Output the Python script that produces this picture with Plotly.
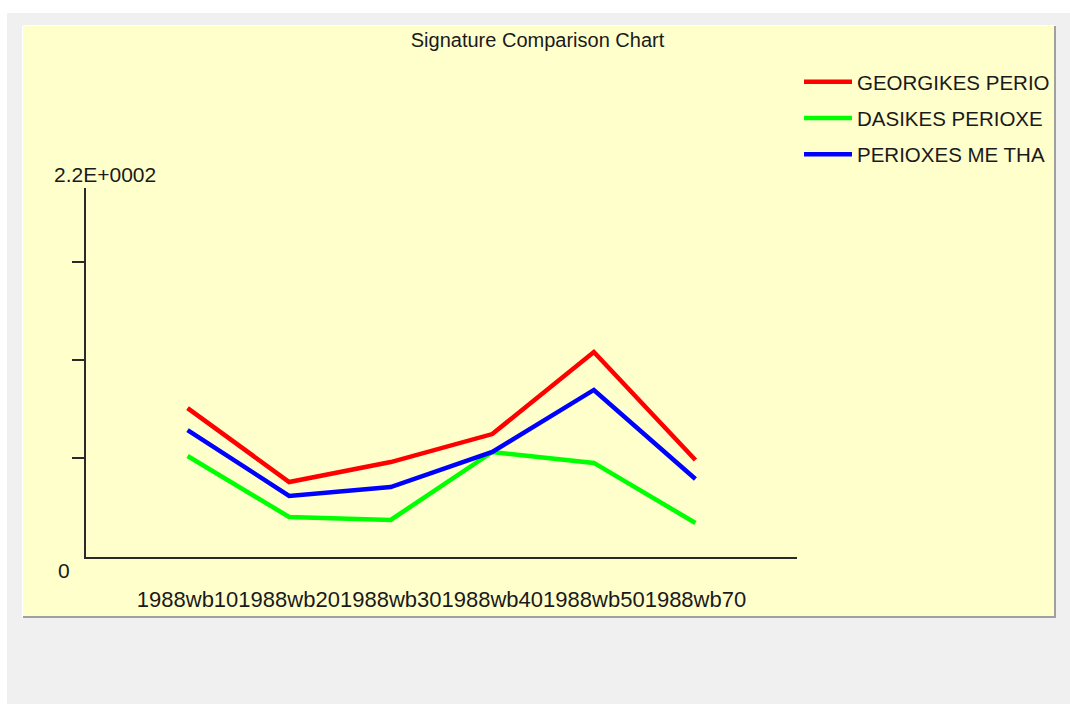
import plotly.graph_objects as go

W, H = 1070, 704

categories = ["1988wb10", "1988wb20", "1988wb30", "1988wb40", "1988wb50", "1988wb70"]
series_names = ["GEORGIKES PERIO", "DASIKES PERIOXE", "PERIOXES ME THA"]
georgikes = [88.8, 44.7, 56.6, 73.3, 122.2, 57.8]
dasikes = [60.2, 23.9, 22.1, 62.6, 56.1, 20.3]
thamnous = [75.7, 36.4, 41.7, 62.6, 99.6, 46.5]
series_values = [georgikes, dasikes, thamnous]
series_colors = ["#ff0000", "#00ff00", "#0000ff"]

y_max = 220
y_ticks = [59, 117.5, 176]
y_top_label = "2.2E+0002"
y_bottom_label = "0"
title_text = "Signature Comparison Chart"


def fx(x):
    return x / W


def fy(y):
    return 1 - y / H


FONT = "Liberation Sans, Arial, sans-serif"
TXT = "#1a1a1a"

fig = go.Figure()
for name, vals, col in zip(series_names, series_values, series_colors):
    fig.add_trace(go.Scatter(
        x=categories, y=vals, mode="lines", name=name,
        line=dict(color=col, width=4.5), legendgroup=name,
    ))

shapes = [
    dict(type="rect", xref="paper", yref="paper", x0=fx(7), x1=fx(1070), y0=fy(13), y1=fy(704),
         fillcolor="#f0f0f0", line=dict(width=0), layer="below"),
    dict(type="rect", xref="paper", yref="paper", x0=fx(23), x1=fx(1055), y0=fy(26), y1=fy(617),
         fillcolor="#ffffcc", line=dict(width=0), layer="below"),
    dict(type="line", xref="paper", yref="paper", x0=fx(23), x1=fx(1056), y0=fy(617), y1=fy(617),
         line=dict(color="#a0a0a0", width=2), layer="below"),
    dict(type="line", xref="paper", yref="paper", x0=fx(1055), x1=fx(1055), y0=fy(26), y1=fy(618),
         line=dict(color="#a0a0a0", width=2), layer="below"),
    dict(type="line", xref="paper", yref="paper", x0=fx(23), x1=fx(1055), y0=fy(25.5), y1=fy(25.5),
         line=dict(color="#ffffff", width=1), layer="below"),
    dict(type="line", xref="paper", yref="paper", x0=fx(22.5), x1=fx(22.5), y0=fy(26), y1=fy(617),
         line=dict(color="#ffffff", width=1), layer="below"),
]

annotations = [
    dict(text=y_top_label, xref="paper", yref="paper", x=fx(52), y=fy(175), xanchor="left",
         yanchor="middle", showarrow=False, font=dict(family=FONT, size=21, color=TXT)),
    dict(text=y_bottom_label, xref="paper", yref="paper", x=fx(63.5), y=fy(570), xanchor="center",
         yanchor="middle", showarrow=False, font=dict(family=FONT, size=21, color=TXT)),
]

fig.update_layout(
    width=W, height=H,
    margin=dict(l=0, r=0, t=0, b=0),
    paper_bgcolor="#ffffff",
    plot_bgcolor="rgba(0,0,0,0)",
    title=dict(text=title_text, x=fx(537.5), y=fy(40), xanchor="center", yanchor="middle",
               xref="paper", yref="paper", font=dict(family=FONT, size=20, color=TXT)),
    shapes=shapes,
    annotations=annotations,
    showlegend=True,
    legend=dict(x=fx(799), y=fy(62), xanchor="left", yanchor="top",
                bgcolor="rgba(0,0,0,0)", font=dict(family=FONT, size=20.5, color=TXT),
                tracegroupgap=6.5, itemwidth=48),
    xaxis=dict(domain=[fx(86), fx(797)], range=[-1, 6], type="category",
               showline=True, linecolor="#2a2a2a", linewidth=2, showgrid=False, zeroline=False,
               ticks="", tickangle=0, tickfont=dict(family=FONT, size=22, color=TXT),
               ticklabelstandoff=22, fixedrange=True),
    yaxis=dict(domain=[fy(557), fy(188)], range=[0, y_max],
               showline=True, linecolor="#2a2a2a", linewidth=2, showgrid=False, zeroline=False,
               tickmode="array", tickvals=y_ticks, ticks="outside", ticklen=12, tickwidth=2,
               tickcolor="#2a2a2a", showticklabels=False, fixedrange=True),
)

fig.write_html(
    "out.html",
    config={"displayModeBar": False},
    post_script="document.body.style.margin='0';document.body.style.overflow='hidden';",
)
